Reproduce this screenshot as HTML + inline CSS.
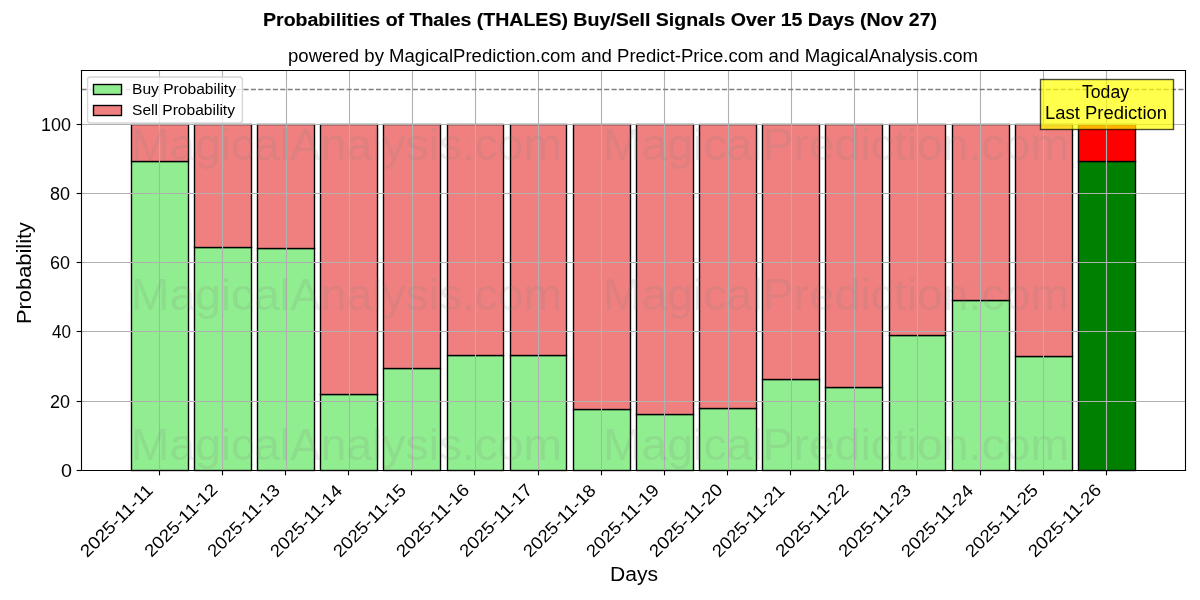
<!DOCTYPE html><html><head><meta charset="utf-8"><title>Probabilities of Thales (THALES) Buy/Sell Signals</title><style>html,body{margin:0;padding:0;background:#fff;}svg{display:block;will-change:transform;}text{font-family:"Liberation Sans",sans-serif;}</style></head><body>
<svg width="1200" height="600" viewBox="0 0 1200 600">
<rect x="0" y="0" width="1200" height="600" fill="#ffffff"/>
<g id="shapes">
<g stroke="#000" stroke-width="1.3889" stroke-linejoin="miter">
<rect x="131.5" y="161.5" width="57.0" height="309.0" fill="#90ee90"/>
<rect x="194.5" y="247.5" width="57.0" height="223.0" fill="#90ee90"/>
<rect x="257.5" y="248.5" width="57.0" height="222.0" fill="#90ee90"/>
<rect x="320.5" y="394.5" width="57.0" height="76.0" fill="#90ee90"/>
<rect x="383.5" y="368.5" width="57.0" height="102.0" fill="#90ee90"/>
<rect x="447.5" y="355.5" width="56.0" height="115.0" fill="#90ee90"/>
<rect x="510.5" y="355.5" width="56.0" height="115.0" fill="#90ee90"/>
<rect x="573.5" y="409.5" width="57.0" height="61.0" fill="#90ee90"/>
<rect x="636.5" y="414.5" width="57.0" height="56.0" fill="#90ee90"/>
<rect x="699.5" y="408.5" width="57.0" height="62.0" fill="#90ee90"/>
<rect x="762.5" y="379.5" width="57.0" height="91.0" fill="#90ee90"/>
<rect x="825.5" y="387.5" width="57.0" height="83.0" fill="#90ee90"/>
<rect x="889.5" y="335.5" width="56.0" height="135.0" fill="#90ee90"/>
<rect x="952.5" y="300.5" width="57.0" height="170.0" fill="#90ee90"/>
<rect x="1015.5" y="356.5" width="57.0" height="114.0" fill="#90ee90"/>
<rect x="1078.5" y="161.5" width="57.0" height="309.0" fill="#008000"/>
<rect x="131.5" y="124.5" width="57.0" height="37.0" fill="#f08080"/>
<rect x="194.5" y="124.5" width="57.0" height="123.0" fill="#f08080"/>
<rect x="257.5" y="124.5" width="57.0" height="124.0" fill="#f08080"/>
<rect x="320.5" y="124.5" width="57.0" height="270.0" fill="#f08080"/>
<rect x="383.5" y="124.5" width="57.0" height="244.0" fill="#f08080"/>
<rect x="447.5" y="124.5" width="56.0" height="231.0" fill="#f08080"/>
<rect x="510.5" y="124.5" width="56.0" height="231.0" fill="#f08080"/>
<rect x="573.5" y="124.5" width="57.0" height="285.0" fill="#f08080"/>
<rect x="636.5" y="124.5" width="57.0" height="290.0" fill="#f08080"/>
<rect x="699.5" y="124.5" width="57.0" height="284.0" fill="#f08080"/>
<rect x="762.5" y="124.5" width="57.0" height="255.0" fill="#f08080"/>
<rect x="825.5" y="124.5" width="57.0" height="263.0" fill="#f08080"/>
<rect x="889.5" y="124.5" width="56.0" height="211.0" fill="#f08080"/>
<rect x="952.5" y="124.5" width="57.0" height="176.0" fill="#f08080"/>
<rect x="1015.5" y="124.5" width="57.0" height="232.0" fill="#f08080"/>
<rect x="1078.5" y="124.5" width="57.0" height="37.0" fill="#ff0000"/>
</g>
<g stroke="#b0b0b0" stroke-width="1.1111" stroke-linecap="square">
<line x1="159.5" y1="70.5" x2="159.5" y2="470.5"/>
<line x1="222.5" y1="70.5" x2="222.5" y2="470.5"/>
<line x1="286.5" y1="70.5" x2="286.5" y2="470.5"/>
<line x1="349.5" y1="70.5" x2="349.5" y2="470.5"/>
<line x1="412.5" y1="70.5" x2="412.5" y2="470.5"/>
<line x1="475.5" y1="70.5" x2="475.5" y2="470.5"/>
<line x1="538.5" y1="70.5" x2="538.5" y2="470.5"/>
<line x1="601.5" y1="70.5" x2="601.5" y2="470.5"/>
<line x1="664.5" y1="70.5" x2="664.5" y2="470.5"/>
<line x1="728.5" y1="70.5" x2="728.5" y2="470.5"/>
<line x1="791.5" y1="70.5" x2="791.5" y2="470.5"/>
<line x1="854.5" y1="70.5" x2="854.5" y2="470.5"/>
<line x1="917.5" y1="70.5" x2="917.5" y2="470.5"/>
<line x1="980.5" y1="70.5" x2="980.5" y2="470.5"/>
<line x1="1043.5" y1="70.5" x2="1043.5" y2="470.5"/>
<line x1="1106.5" y1="70.5" x2="1106.5" y2="470.5"/>
<line x1="81.5" y1="470.5" x2="1185.5" y2="470.5"/>
<line x1="81.5" y1="401.5" x2="1185.5" y2="401.5"/>
<line x1="81.5" y1="331.5" x2="1185.5" y2="331.5"/>
<line x1="81.5" y1="262.5" x2="1185.5" y2="262.5"/>
<line x1="81.5" y1="193.5" x2="1185.5" y2="193.5"/>
<line x1="81.5" y1="124.5" x2="1185.5" y2="124.5"/>
</g>
<line x1="81.5" y1="89.5" x2="1185.5" y2="89.5" stroke="#808080" stroke-width="1.3889" stroke-dasharray="5.1389 2.2222"/>
<g stroke="#000" stroke-width="1.1111" stroke-linecap="square">
<line x1="81.5" y1="70.5" x2="81.5" y2="470.5"/><line x1="1185.5" y1="70.5" x2="1185.5" y2="470.5"/><line x1="81.5" y1="470.5" x2="1185.5" y2="470.5"/><line x1="81.5" y1="70.5" x2="1185.5" y2="70.5"/>
</g>
<g stroke="#000" stroke-width="1.1111">
<line x1="159.5" y1="470.5" x2="159.5" y2="475.361"/>
<line x1="222.5" y1="470.5" x2="222.5" y2="475.361"/>
<line x1="285.5" y1="470.5" x2="285.5" y2="475.361"/>
<line x1="348.5" y1="470.5" x2="348.5" y2="475.361"/>
<line x1="411.5" y1="470.5" x2="411.5" y2="475.361"/>
<line x1="474.5" y1="470.5" x2="474.5" y2="475.361"/>
<line x1="538.5" y1="470.5" x2="538.5" y2="475.361"/>
<line x1="601.5" y1="470.5" x2="601.5" y2="475.361"/>
<line x1="664.5" y1="470.5" x2="664.5" y2="475.361"/>
<line x1="727.5" y1="470.5" x2="727.5" y2="475.361"/>
<line x1="790.5" y1="470.5" x2="790.5" y2="475.361"/>
<line x1="853.5" y1="470.5" x2="853.5" y2="475.361"/>
<line x1="916.5" y1="470.5" x2="916.5" y2="475.361"/>
<line x1="980.5" y1="470.5" x2="980.5" y2="475.361"/>
<line x1="1043.5" y1="470.5" x2="1043.5" y2="475.361"/>
<line x1="1106.5" y1="470.5" x2="1106.5" y2="475.361"/>
<line x1="81.5" y1="470.5" x2="76.639" y2="470.5"/>
<line x1="81.5" y1="401.5" x2="76.639" y2="401.5"/>
<line x1="81.5" y1="331.5" x2="76.639" y2="331.5"/>
<line x1="81.5" y1="262.5" x2="76.639" y2="262.5"/>
<line x1="81.5" y1="193.5" x2="76.639" y2="193.5"/>
<line x1="81.5" y1="124.5" x2="76.639" y2="124.5"/>
</g>
</g>
<g id="ticklabels"><text id="t7" class="t" x="87.19" y="558.25" font-size="17.50" textLength="94.34" lengthAdjust="spacingAndGlyphs" transform="rotate(-45.0 87.19 558.25)" fill="#000">2025-11-11</text><text id="t8" class="t" x="151.44" y="558.00" font-size="17.50" textLength="95.04" lengthAdjust="spacingAndGlyphs" transform="rotate(-45.0 151.44 558.00)" fill="#000">2025-11-12</text><text id="t9" class="t" x="214.44" y="558.00" font-size="17.50" textLength="94.34" lengthAdjust="spacingAndGlyphs" transform="rotate(-45.0 214.44 558.00)" fill="#000">2025-11-13</text><text id="t10" class="t" x="277.19" y="558.25" font-size="17.50" textLength="93.63" lengthAdjust="spacingAndGlyphs" transform="rotate(-45.0 277.19 558.25)" fill="#000">2025-11-14</text><text id="t11" class="t" x="340.19" y="558.25" font-size="17.50" textLength="94.69" lengthAdjust="spacingAndGlyphs" transform="rotate(-45.0 340.19 558.25)" fill="#000">2025-11-15</text><text id="t12" class="t" x="403.19" y="558.25" font-size="17.50" textLength="95.04" lengthAdjust="spacingAndGlyphs" transform="rotate(-45.0 403.19 558.25)" fill="#000">2025-11-16</text><text id="t13" class="t" x="466.44" y="558.00" font-size="17.50" textLength="94.69" lengthAdjust="spacingAndGlyphs" transform="rotate(-45.0 466.44 558.00)" fill="#000">2025-11-17</text><text id="t14" class="t" x="530.19" y="558.25" font-size="17.50" textLength="94.34" lengthAdjust="spacingAndGlyphs" transform="rotate(-45.0 530.19 558.25)" fill="#000">2025-11-18</text><text id="t15" class="t" x="593.19" y="558.25" font-size="17.50" textLength="94.69" lengthAdjust="spacingAndGlyphs" transform="rotate(-45.0 593.19 558.25)" fill="#000">2025-11-19</text><text id="t16" class="t" x="656.19" y="558.25" font-size="17.50" textLength="95.40" lengthAdjust="spacingAndGlyphs" transform="rotate(-45.0 656.19 558.25)" fill="#000">2025-11-20</text><text id="t17" class="t" x="719.19" y="558.25" font-size="17.50" textLength="93.98" lengthAdjust="spacingAndGlyphs" transform="rotate(-45.0 719.19 558.25)" fill="#000">2025-11-21</text><text id="t18" class="t" x="782.44" y="558.00" font-size="17.50" textLength="95.04" lengthAdjust="spacingAndGlyphs" transform="rotate(-45.0 782.44 558.00)" fill="#000">2025-11-22</text><text id="t19" class="t" x="845.44" y="558.00" font-size="17.50" textLength="94.34" lengthAdjust="spacingAndGlyphs" transform="rotate(-45.0 845.44 558.00)" fill="#000">2025-11-23</text><text id="t20" class="t" x="908.19" y="558.25" font-size="17.50" textLength="93.63" lengthAdjust="spacingAndGlyphs" transform="rotate(-45.0 908.19 558.25)" fill="#000">2025-11-24</text><text id="t21" class="t" x="972.19" y="558.25" font-size="17.50" textLength="94.69" lengthAdjust="spacingAndGlyphs" transform="rotate(-45.0 972.19 558.25)" fill="#000">2025-11-25</text><text id="t22" class="t" x="1035.19" y="558.25" font-size="17.50" textLength="95.04" lengthAdjust="spacingAndGlyphs" transform="rotate(-45.0 1035.19 558.25)" fill="#000">2025-11-26</text><text id="t24" class="t" x="61.00" y="477.00" font-size="17.50" textLength="11.00" lengthAdjust="spacingAndGlyphs" fill="#000">0</text><text id="t25" class="t" x="50.00" y="408.00" font-size="17.50" textLength="20.00" lengthAdjust="spacingAndGlyphs" fill="#000">20</text><text id="t26" class="t" x="52.00" y="338.00" font-size="17.50" textLength="19.00" lengthAdjust="spacingAndGlyphs" fill="#000">40</text><text id="t27" class="t" x="50.00" y="269.00" font-size="17.50" textLength="20.00" lengthAdjust="spacingAndGlyphs" fill="#000">60</text><text id="t28" class="t" x="50.00" y="200.00" font-size="17.50" textLength="20.00" lengthAdjust="spacingAndGlyphs" fill="#000">80</text><text id="t29" class="t" x="41.00" y="131.00" font-size="17.50" textLength="30.00" lengthAdjust="spacingAndGlyphs" fill="#000">100</text></g>
<g id="axlabels"><text id="t6" class="t" x="610.00" y="580.92" font-size="20.42" textLength="48.00" lengthAdjust="spacingAndGlyphs" fill="#000">Days</text><text id="t23" class="t" x="30.92" y="324.00" font-size="20.42" textLength="102.00" lengthAdjust="spacingAndGlyphs" transform="rotate(-90.0 30.92 324.00)" fill="#000">Probability</text></g>
<rect class="shape" x="1040.5" y="79.5" width="133.0" height="50.0" fill="#ffff00" fill-opacity="0.7" stroke="#000" stroke-opacity="0.7" stroke-width="1.3889" stroke-linejoin="miter"/>
<g id="ann" transform="translate(0 0.85)"><text id="t34" class="t" x="1082.00" y="97.50" font-size="17.50" textLength="47.00" lengthAdjust="spacingAndGlyphs" fill="#000">Today</text><text id="t35" class="t" x="1045.00" y="118.00" font-size="17.50" textLength="122.00" lengthAdjust="spacingAndGlyphs" fill="#000">Last Prediction</text></g>
<g id="wm" fill-opacity="0.15"><text id="t0" class="t" x="131.00" y="160.25" font-size="43.75" textLength="431.00" lengthAdjust="spacingAndGlyphs" fill="#808080">MagicalAnalysis.com</text><text id="t1" class="t" x="603.00" y="160.25" font-size="43.75" textLength="466.00" lengthAdjust="spacingAndGlyphs" fill="#808080">MagicalPrediction.com</text><text id="t2" class="t" x="131.00" y="310.25" font-size="43.75" textLength="431.00" lengthAdjust="spacingAndGlyphs" fill="#808080">MagicalAnalysis.com</text><text id="t3" class="t" x="603.00" y="310.25" font-size="43.75" textLength="466.00" lengthAdjust="spacingAndGlyphs" fill="#808080">MagicalPrediction.com</text><text id="t4" class="t" x="131.00" y="460.25" font-size="43.75" textLength="431.00" lengthAdjust="spacingAndGlyphs" fill="#808080">MagicalAnalysis.com</text><text id="t5" class="t" x="603.00" y="460.25" font-size="43.75" textLength="466.00" lengthAdjust="spacingAndGlyphs" fill="#808080">MagicalPrediction.com</text></g>
<g id="titles"><text id="t30" class="t" x="288.00" y="61.50" font-size="17.50" textLength="690.00" lengthAdjust="spacingAndGlyphs" fill="#000">powered by MagicalPrediction.com and Predict-Price.com and MagicalAnalysis.com</text><text id="t33" class="t" x="263.00" y="25.50" font-size="17.50" font-weight="bold" textLength="674.00" lengthAdjust="spacingAndGlyphs" fill="#000" stroke="#000" stroke-width="0.15">Probabilities of Thales (THALES) Buy/Sell Signals Over 15 Days (Nov 27)</text></g>
<rect class="shape" x="87.544" y="76.944" width="154.875" height="46.056" rx="2.778" ry="2.778" fill="#ffffff" fill-opacity="0.8" stroke="#cccccc" stroke-opacity="0.8" stroke-width="1.3889"/>
<rect class="shape" x="93.5" y="84.5" width="28.0" height="10.0" fill="#90ee90" stroke="#000" stroke-width="1.3889" stroke-linejoin="miter"/>
<rect class="shape" x="93.5" y="105.5" width="28.0" height="10.0" fill="#f08080" stroke="#000" stroke-width="1.3889" stroke-linejoin="miter"/>
<g id="legtext" transform="translate(0 1.2)"><text id="t31" class="t" x="132.00" y="93.08" font-size="14.58" textLength="104.00" lengthAdjust="spacingAndGlyphs" fill="#000">Buy Probability</text><text id="t32" class="t" x="132.00" y="114.08" font-size="14.58" textLength="103.00" lengthAdjust="spacingAndGlyphs" fill="#000">Sell Probability</text></g>
</svg></body></html>
